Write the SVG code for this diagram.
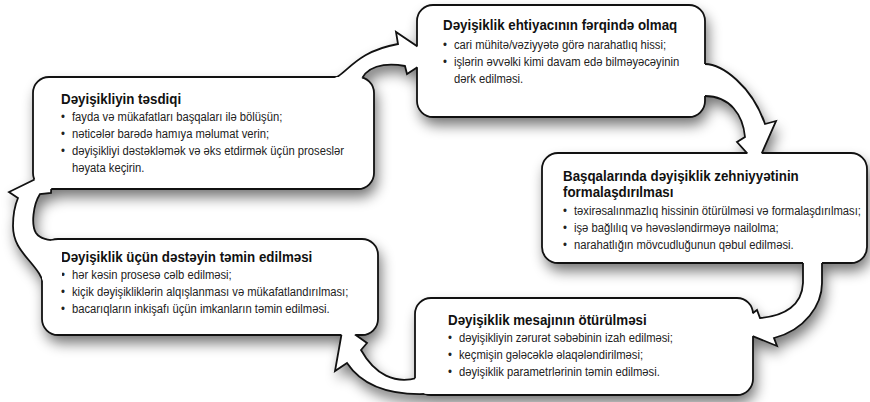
<svg xmlns="http://www.w3.org/2000/svg" xmlns:xlink="http://www.w3.org/1999/xlink" width="870" height="402" viewBox="0 0 870 402">
<style>
.box{fill:#fff;stroke:#111;stroke-width:1.8}
.afill{fill:#fff;stroke:none}
.aline{fill:none;stroke:#111;stroke-width:1.8;stroke-linejoin:miter}
.t{font-family:"Liberation Sans",Arial,sans-serif;font-size:15px;font-weight:bold;fill:#111}
.b{font-family:"Liberation Sans",Arial,sans-serif;font-size:13.3px;fill:#222}
</style>
<defs>
<filter id="blur" x="-20%" y="-20%" width="140%" height="150%"><feGaussianBlur stdDeviation="7"/></filter>
<path id="b1" d="M49 77H358A16 16 0 0 1 374 93V173A16 16 0 0 1 358 189H49A16 16 0 0 1 33 173V93A16 16 0 0 1 49 77Z"/>
<path id="b2" d="M433 5H689A16 16 0 0 1 705 21V101A16 16 0 0 1 689 117H433A16 16 0 0 1 417 101V21A16 16 0 0 1 433 5Z"/>
<path id="b3" d="M558 153H851A16 16 0 0 1 867 169V247A16 16 0 0 1 851 263H558A16 16 0 0 1 542 247V169A16 16 0 0 1 558 153Z"/>
<path id="b4" d="M58 239H362A16 16 0 0 1 378 255V319A16 16 0 0 1 362 335H58A16 16 0 0 1 42 319V255A16 16 0 0 1 58 239Z"/>
<path id="b5" d="M431 298H737A16 16 0 0 1 753 314V379A16 16 0 0 1 737 395H431A16 16 0 0 1 415 379V314A16 16 0 0 1 431 298Z"/>
<path id="a1" d="M330 79C345 79 352 52 398 44L396 32L433 57L407 74L405 66C385 62 364 66 360 84L335 100Z"/>
<path id="a2" d="M698 64L705 64C722 64 752 86 765 124L776 121L757 164L737 142L745 137C743 115 730 96 705 96L698 96Z"/>
<path id="a3" d="M803 255L803 283C802 305 785 316 760 318L757 310L733 328L777 346L774 338C805 330 822 305 822 283L822 255Z"/>
<path id="a4" d="M417 378C395 384 375 375 361 350L367 343L343 326L335 371L347 363C365 390 400 397 440 393L425 385Z"/>
<path id="a5" d="M46 290C40 262 13 255 13 226C13 214 15 205 18 198L9 192L52 171L51 193L40 194C33 205 31 225 36 233C40 239 47 240 62 241.5L62 290Z"/>
<clipPath id="c1"><path clip-rule="evenodd" d="M-10 -10H880V412H-10Z M49 77H358A16 16 0 0 1 374 93V173A16 16 0 0 1 358 189H49A16 16 0 0 1 33 173V93A16 16 0 0 1 49 77Z M433 5H689A16 16 0 0 1 705 21V101A16 16 0 0 1 689 117H433A16 16 0 0 1 417 101V21A16 16 0 0 1 433 5Z"/></clipPath>
<clipPath id="c2"><path clip-rule="evenodd" d="M-10 -10H880V412H-10Z M433 5H689A16 16 0 0 1 705 21V101A16 16 0 0 1 689 117H433A16 16 0 0 1 417 101V21A16 16 0 0 1 433 5Z M558 153H851A16 16 0 0 1 867 169V247A16 16 0 0 1 851 263H558A16 16 0 0 1 542 247V169A16 16 0 0 1 558 153Z"/></clipPath>
<clipPath id="c3"><path clip-rule="evenodd" d="M-10 -10H880V412H-10Z M558 153H851A16 16 0 0 1 867 169V247A16 16 0 0 1 851 263H558A16 16 0 0 1 542 247V169A16 16 0 0 1 558 153Z M431 298H737A16 16 0 0 1 753 314V379A16 16 0 0 1 737 395H431A16 16 0 0 1 415 379V314A16 16 0 0 1 431 298Z"/></clipPath>
<clipPath id="c4"><path clip-rule="evenodd" d="M-10 -10H880V412H-10Z M431 298H737A16 16 0 0 1 753 314V379A16 16 0 0 1 737 395H431A16 16 0 0 1 415 379V314A16 16 0 0 1 431 298Z M58 239H362A16 16 0 0 1 378 255V319A16 16 0 0 1 362 335H58A16 16 0 0 1 42 319V255A16 16 0 0 1 58 239Z"/></clipPath>
<clipPath id="c5"><path clip-rule="evenodd" d="M-10 -10H880V412H-10Z M58 239H362A16 16 0 0 1 378 255V319A16 16 0 0 1 362 335H58A16 16 0 0 1 42 319V255A16 16 0 0 1 58 239Z M49 77H358A16 16 0 0 1 374 93V173A16 16 0 0 1 358 189H49A16 16 0 0 1 33 173V93A16 16 0 0 1 49 77Z"/></clipPath>
</defs>
<rect width="870" height="402" fill="#fff"/>
<g id="shadows" filter="url(#blur)" fill="#000" opacity="0.55" transform="translate(3,8)">
<use xlink:href="#b1"/><use xlink:href="#b2"/><use xlink:href="#b3"/><use xlink:href="#b4"/><use xlink:href="#b5"/>
<use xlink:href="#a1"/><use xlink:href="#a2"/><use xlink:href="#a3"/><use xlink:href="#a4"/><use xlink:href="#a5"/>
</g>
<g id="node-tesdiq">
<use xlink:href="#b1" class="box"/>
<text class="t" transform="translate(61 0) scale(0.89 1)" y="104">Dəyişikliyin təsdiqi</text>
<text class="b" transform="translate(61 0) scale(0.845 1)" y="121"><tspan x="0">•</tspan><tspan x="13">fayda və mükafatları başqaları ilə bölüşün;</tspan></text>
<text class="b" transform="translate(61 0) scale(0.845 1)" y="138"><tspan x="0">•</tspan><tspan x="13">nəticələr barədə hamıya məlumat verin;</tspan></text>
<text class="b" transform="translate(61 0) scale(0.845 1)" y="155"><tspan x="0">•</tspan><tspan x="13">dəyişikliyi dəstəkləmək və əks etdirmək üçün proseslər</tspan></text>
<text class="b" transform="translate(61 0) scale(0.845 1)" x="13" y="172">həyata keçirin.</text>
</g>
<g id="node-ferqinde">
<use xlink:href="#b2" class="box"/>
<text class="t" transform="translate(443 0) scale(0.89 1)" y="30">Dəyişiklik ehtiyacının fərqində olmaq</text>
<text class="b" transform="translate(443 0) scale(0.845 1)" y="49"><tspan x="0">•</tspan><tspan x="13">cari mühitə/vəziyyətə görə narahatlıq hissi;</tspan></text>
<text class="b" transform="translate(443 0) scale(0.845 1)" y="66"><tspan x="0">•</tspan><tspan x="13">işlərin əvvəlki kimi davam edə bilməyəcəyinin</tspan></text>
<text class="b" transform="translate(443 0) scale(0.845 1)" x="13" y="83">dərk edilməsi.</text>
</g>
<g id="node-zehniyyet">
<use xlink:href="#b3" class="box"/>
<text class="t" transform="translate(563 0) scale(0.89 1)" y="181">Başqalarında dəyişiklik zehniyyətinin</text>
<text class="t" transform="translate(563 0) scale(0.89 1)" y="197">formalaşdırılması</text>
<text class="b" transform="translate(563 0) scale(0.845 1)" y="215"><tspan x="0">•</tspan><tspan x="13">təxirəsalınmazlıq hissinin ötürülməsi və formalaşdırılması;</tspan></text>
<text class="b" transform="translate(563 0) scale(0.845 1)" y="232"><tspan x="0">•</tspan><tspan x="13">işə bağlılıq və həvəsləndirməyə nailolma;</tspan></text>
<text class="b" transform="translate(563 0) scale(0.845 1)" y="249"><tspan x="0">•</tspan><tspan x="13">narahatlığın mövcudluğunun qəbul edilməsi.</tspan></text>
</g>
<g id="node-destek">
<use xlink:href="#b4" class="box"/>
<text class="t" transform="translate(61 0) scale(0.89 1)" y="262">Dəyişiklik üçün dəstəyin təmin edilməsi</text>
<text class="b" transform="translate(61 0) scale(0.845 1)" y="279"><tspan x="0">•</tspan><tspan x="13">hər kəsin prosesə cəlb edilməsi;</tspan></text>
<text class="b" transform="translate(61 0) scale(0.845 1)" y="296"><tspan x="0">•</tspan><tspan x="13">kiçik dəyişikliklərin alqışlanması və mükafatlandırılması;</tspan></text>
<text class="b" transform="translate(61 0) scale(0.845 1)" y="313"><tspan x="0">•</tspan><tspan x="13">bacarıqların inkişafı üçün imkanların təmin edilməsi.</tspan></text>
</g>
<g id="node-mesaj">
<use xlink:href="#b5" class="box"/>
<text class="t" transform="translate(448 0) scale(0.89 1)" y="325">Dəyişiklik mesajının ötürülməsi</text>
<text class="b" transform="translate(448 0) scale(0.845 1)" y="342"><tspan x="0">•</tspan><tspan x="13">dəyişikliyin zərurət səbəbinin izah edilməsi;</tspan></text>
<text class="b" transform="translate(448 0) scale(0.845 1)" y="359"><tspan x="0">•</tspan><tspan x="13">keçmişin gələcəklə əlaqələndirilməsi;</tspan></text>
<text class="b" transform="translate(448 0) scale(0.845 1)" y="376"><tspan x="0">•</tspan><tspan x="13">dəyişiklik parametrlərinin təmin edilməsi.</tspan></text>
</g>
<g id="connectors">
<g id="arrow-1"><use xlink:href="#a1" class="afill"/><use xlink:href="#a1" class="aline" clip-path="url(#c1)"/></g>
<g id="arrow-2"><use xlink:href="#a2" class="afill"/><use xlink:href="#a2" class="aline" clip-path="url(#c2)"/></g>
<g id="arrow-3"><use xlink:href="#a3" class="afill"/><use xlink:href="#a3" class="aline" clip-path="url(#c3)"/></g>
<g id="arrow-4"><use xlink:href="#a4" class="afill"/><use xlink:href="#a4" class="aline" clip-path="url(#c4)"/></g>
<g id="arrow-5"><use xlink:href="#a5" class="afill"/><use xlink:href="#a5" class="aline" clip-path="url(#c5)"/></g>
</g>
</svg>
